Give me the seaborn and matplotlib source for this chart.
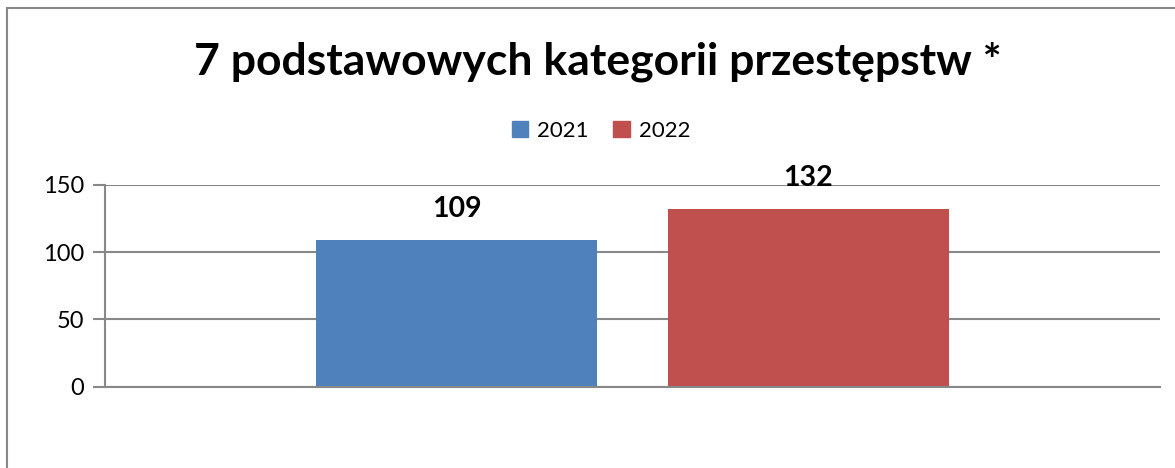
import pandas as pd
import seaborn as sns
import matplotlib.pyplot as plt
from matplotlib.patches import Rectangle

title = "7 podstawowych kategorii przestępstw *"
years = ["2021", "2022"]
values = [109, 132]
colors = ["#4F81BD", "#C0504D"]
yticks = [0, 50, 100, 150]

df = pd.DataFrame({"cat": ["x"] * len(years), "year": years, "value": values})

sns.set_theme(style="white")
plt.rcParams["font.family"] = ["Lato", "DejaVu Sans"]
plt.rcParams["text.color"] = "black"
plt.rcParams["ytick.labelcolor"] = "black"

fig = plt.figure(figsize=(11.75, 4.68), dpi=100)
ax = fig.add_axes([105 / 1175, 1 - 386.5 / 468, 1055 / 1175, 201.5 / 468])

sns.barplot(
    data=df, x="cat", y="value", hue="year", palette=colors,
    width=0.667, gap=0.2, saturation=1, ax=ax, legend=False, linewidth=0,
)

ax.set_ylim(0, 150)
ax.set_xlim(-0.5, 0.5)
ax.set_yticks(yticks)
ax.set_yticklabels([str(t) for t in yticks], fontsize=17, color="black")
ax.set_xticks([])
ax.set_xlabel("")
ax.set_ylabel("")
ax.yaxis.grid(True, color="#888888", linewidth=1.5)
ax.set_axisbelow(True)
ax.tick_params(axis="y", length=9, width=1.5, color="#888888", pad=6, left=True)
for side in ["top", "right"]:
    ax.spines[side].set_visible(False)
ax.spines["left"].set_color("#888888")
ax.spines["left"].set_linewidth(1.5)
ax.spines["bottom"].set_color("#888888")
ax.spines["bottom"].set_linewidth(1.5)

for cont in ax.containers:
    ax.bar_label(cont, fontsize=20.5, fontweight="bold", padding=13, color="black")

fig.text(0.509, 1 - 62 / 468, title, ha="center", va="center",
         fontsize=32, fontweight="bold", color="black")

handles = [Rectangle((0, 0), 1, 1, color=c) for c in colors]
fig.legend(handles, years, loc="center", bbox_to_anchor=(601 / 1175, 1 - 131 / 468),
           ncol=2, frameon=False, fontsize=16, handlelength=0.75, handleheight=0.75,
           handletextpad=0.4, columnspacing=1.1)

# outer chart frame
fig.patches.append(Rectangle((7 / 1175, -0.1), 1.2, 1 - 8 / 468 + 0.1,
                             transform=fig.transFigure, fill=False,
                             edgecolor="#888888", linewidth=1.5))

fig.savefig("out.png", dpi=100)
